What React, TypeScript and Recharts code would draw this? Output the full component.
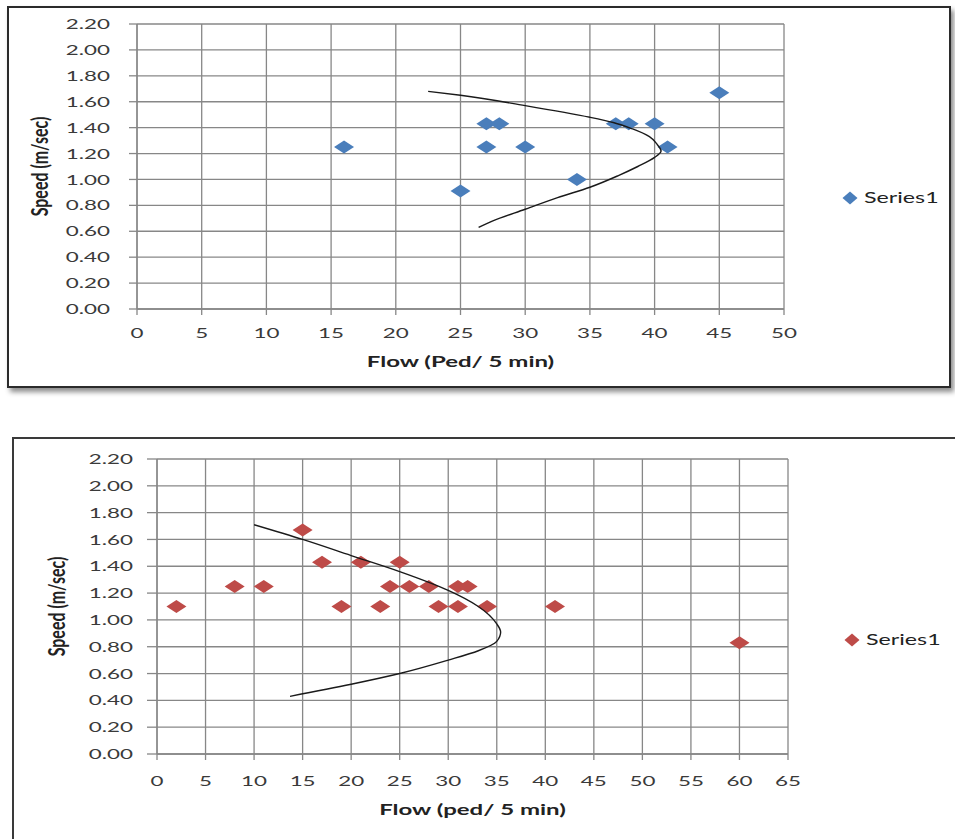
import { CartesianGrid, Label, Legend, Scatter, ScatterChart, XAxis, YAxis } from "recharts";

// top chart (blue)
const topFlow = [16, 25, 27, 28, 27, 30, 34, 37, 38, 40, 41, 45];
const topSpeed = [1.25, 0.91, 1.43, 1.43, 1.25, 1.25, 1.0, 1.43, 1.43, 1.43, 1.25, 1.67];
const topCurveFlow = [22.5, 25, 30, 35, 36.8, 38.3, 39.6, 40.2, 40.5, 40, 38.7, 37.2, 35, 32.5, 30, 27.5, 26.4];
const topCurveSpeed = [1.68, 1.65, 1.57, 1.48, 1.44, 1.39, 1.33, 1.27, 1.22, 1.17, 1.1, 1.03, 0.94, 0.86, 0.77, 0.68, 0.63];

// bottom chart (red)
const bottomFlow = [2, 8, 11, 15, 17, 19, 21, 23, 24, 25, 26, 28, 29, 31, 31, 32, 34, 41, 60];
const bottomSpeed = [1.1, 1.25, 1.25, 1.67, 1.43, 1.1, 1.43, 1.1, 1.25, 1.43, 1.25, 1.25, 1.1, 1.25, 1.1, 1.25, 1.1, 1.1, 0.83];
const bottomCurveFlow = [10, 15, 20, 25, 30, 33.1, 35, 35.4, 35, 33.1, 30, 25, 20, 13.7];
const bottomCurveSpeed = [1.71, 1.6, 1.48, 1.36, 1.22, 1.1, 0.97, 0.91, 0.84, 0.77, 0.7, 0.6, 0.52, 0.43];

const speedTicks = [0, 0.2, 0.4, 0.6, 0.8, 1.0, 1.2, 1.4, 1.6, 1.8, 2.0, 2.2];
const topFlowTicks = [0, 5, 10, 15, 20, 25, 30, 35, 40, 45, 50];
const bottomFlowTicks = [0, 5, 10, 15, 20, 25, 30, 35, 40, 45, 50, 55, 60, 65];

const seriesName = "Series1";
const yTitle = "Speed (m/sec)";
const topXTitle = "Flow (Ped/ 5 min)";
const bottomXTitle = "Flow (ped/ 5 min)";

const FONT = "Lato, 'DejaVu Sans', sans-serif";
const GRID = "#878787";
const STRETCH = 1.6;

const toPoints = (flow: number[], speed: number[]) => flow.map((f, i) => ({ flow: f, speed: speed[i] }));

function Diamond(props: any) {
  const { cx, cy, fill } = props;
  if (cx == null || cy == null) return <g />;
  return <polygon points={`${cx},${cy - 6.5} ${cx + 10},${cy} ${cx},${cy + 6.5} ${cx - 10},${cy}`} fill={fill} />;
}

function YTick({ x, y, payload }: any) {
  return (
    <text transform={`translate(${x},${y}) scale(${STRETCH},1)`} textAnchor="end" dy="0.36em" fontSize={14} fontFamily={FONT} fill="#3a3a3a">
      {Number(payload.value).toFixed(2)}
    </text>
  );
}

function XTick({ x, y, payload }: any) {
  return (
    <text transform={`translate(${x},${y}) scale(${STRETCH},1)`} textAnchor="middle" dy="0.71em" fontSize={14} fontFamily={FONT} fill="#3a3a3a">
      {payload.value}
    </text>
  );
}

function XTitle(props: any) {
  const vb = props.viewBox || { x: 0, y: 0, width: 0, height: 0 };
  return (
    <text transform={`translate(${vb.x + vb.width / 2},${vb.y + props.base}) scale(${STRETCH},1)`} textAnchor="middle" fontSize={15} fontWeight="bold" fontFamily={FONT} fill="#222">
      {props.text}
    </text>
  );
}

function YTitle(props: any) {
  const vb = props.viewBox || { x: 0, y: 0, width: 0, height: 0 };
  return (
    <text transform={`translate(${props.base},${vb.y + vb.height / 2}) rotate(-90) scale(1,1.4)`} textAnchor="middle" fontSize={16} fontWeight="bold" fontFamily={FONT} fill="#222">
      {props.text}
    </text>
  );
}

function LegendBox(props: any) {
  const item = (props.payload || []).filter((p: any) => p.type !== "none")[0];
  if (!item) return null;
  return (
    <svg width={115} height={22}>
      <polygon points="8,4.5 15.5,11 8,17.5 0.5,11" fill={item.color} />
      <text transform={`translate(22,11) scale(1.55,1)`} dy="0.36em" fontSize={15} fontFamily={FONT} fill="#222">
        {item.value}
      </text>
    </svg>
  );
}

type PanelProps = {
  points: { flow: number; speed: number }[];
  curve: { flow: number; speed: number }[];
  color: string;
  flowTicks: number[];
  xTitle: string;
  height: number;
  margin: { top: number; right: number; bottom: number; left: number };
  yWidth: number;
  yTickSize: number;
  yTickMargin: number;
  xHeight: number;
  xTickMargin: number;
  xTitleBase: number;
  yTitleBase: number;
  legendPos: { left: number; top: number };
};

function Panel(p: PanelProps) {
  return (
    <ScatterChart width={955} height={p.height} margin={p.margin}>
      <CartesianGrid stroke={GRID} strokeWidth={1.3} />
      <XAxis
        type="number"
        dataKey="flow"
        domain={[p.flowTicks[0], p.flowTicks[p.flowTicks.length - 1]]}
        ticks={p.flowTicks}
        interval={0}
        height={p.xHeight}
        tickSize={6}
        tickMargin={p.xTickMargin}
        axisLine={{ stroke: GRID, strokeWidth: 1.3 }}
        tickLine={{ stroke: GRID, strokeWidth: 1.3 }}
        tick={<XTick />}
      >
        <Label content={<XTitle text={p.xTitle} base={p.xTitleBase} />} />
      </XAxis>
      <YAxis
        type="number"
        dataKey="speed"
        domain={[0, 2.2]}
        ticks={speedTicks}
        interval={0}
        width={p.yWidth}
        tickSize={p.yTickSize}
        tickMargin={p.yTickMargin}
        axisLine={{ stroke: GRID, strokeWidth: 1.3 }}
        tickLine={{ stroke: GRID, strokeWidth: 1.3 }}
        tick={<YTick />}
      >
        <Label content={<YTitle text={yTitle} base={p.yTitleBase} />} />
      </YAxis>
      <Legend
        layout="vertical"
        align="center"
        verticalAlign="middle"
        content={<LegendBox />}
        wrapperStyle={{ left: p.legendPos.left, top: p.legendPos.top, width: 115, height: 22 }}
      />
      <Scatter name={seriesName} data={p.points} fill={p.color} shape={<Diamond />} isAnimationActive={false} />
      <Scatter
        name="curve"
        data={p.curve}
        fill="#1a1a1a"
        legendType="none"
        line={{ stroke: "#1a1a1a", strokeWidth: 1.4 }}
        lineJointType="monotoneY"
        shape={() => <g />}
        isAnimationActive={false}
      />
    </ScatterChart>
  );
}

export default function App() {
  return (
    <div style={{ position: "absolute", left: 0, top: 0, width: 955, height: 839, overflow: "hidden", background: "#fff" }}>
      <div
        style={{
          position: "absolute",
          left: 7,
          top: 6,
          width: 944,
          height: 382,
          boxSizing: "border-box",
          border: "2px solid #2b2b2b",
          boxShadow: "3px 4px 5px rgba(0,0,0,0.45)",
        }}
      />
      <div
        style={{
          position: "absolute",
          left: 12,
          top: 437,
          width: 960,
          height: 430,
          boxSizing: "border-box",
          border: "2px solid #3a3a3a",
        }}
      />
      <div style={{ position: "absolute", left: 0, top: 0 }}>
        <Panel
          points={toPoints(topFlow, topSpeed)}
          curve={toPoints(topCurveFlow, topCurveSpeed)}
          color="#4a7ebb"
          flowTicks={topFlowTicks}
          xTitle={topXTitle}
          height={400}
          margin={{ top: 24, right: 171, bottom: 29, left: 0 }}
          yWidth={137}
          yTickSize={8}
          yTickMargin={19}
          xHeight={62}
          xTickMargin={13}
          xTitleBase={58}
          yTitleBase={48}
          legendPos={{ left: 842, top: 187 }}
        />
      </div>
      <div style={{ position: "absolute", left: 0, top: 420 }}>
        <Panel
          points={toPoints(bottomFlow, bottomSpeed)}
          curve={toPoints(bottomCurveFlow, bottomCurveSpeed)}
          color="#be4b48"
          flowTicks={bottomFlowTicks}
          xTitle={bottomXTitle}
          height={419}
          margin={{ top: 39, right: 167, bottom: 19, left: 0 }}
          yWidth={157}
          yTickSize={10}
          yTickMargin={14}
          xHeight={66}
          xTickMargin={16}
          xTitleBase={61}
          yTitleBase={65}
          legendPos={{ left: 844, top: 209 }}
        />
      </div>
    </div>
  );
}
